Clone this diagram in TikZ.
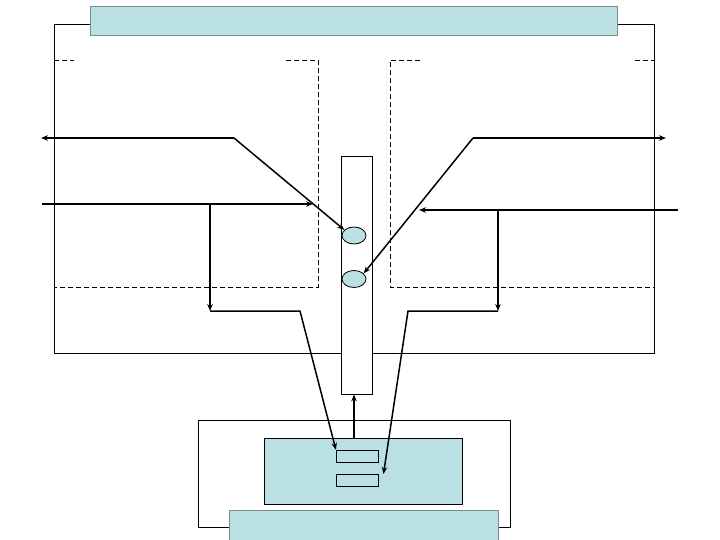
\documentclass[tikz,border=0pt]{standalone}
\usepackage{tikz}
\usetikzlibrary{
  arrows.meta,
  shapes.geometric
}
\definecolor{boxblue}{RGB}{187,224,227}
\definecolor{edgegray}{RGB}{125,138,140}

\begin{document}
\begin{tikzpicture}[x=1pt,y=-1pt,
  frame/.style={draw=black,line width=0.8pt},
  zone/.style={draw=black,line width=0.8pt,dash pattern=on 5pt off 3pt},
  bar/.style={fill=boxblue,draw=edgegray,line width=1pt,inner sep=0pt},
  slot/.style={draw=black,fill=boxblue,line width=0.8pt,inner sep=0pt,
    minimum width=42pt,minimum height=12pt},
  flow/.style={line width=2pt,-{Stealth[length=7pt,width=5.5pt]}},
  link/.style={line width=1.5pt,-{Stealth[length=7pt,width=5.5pt]}}]
  \useasboundingbox (0,0) rectangle (720,540);
  % Upper frame and title bar
  \draw[frame] (90,24) -- (54,24) -- (54,353) -- (654,353) -- (654,24) -- (617,24);
  \node[bar, minimum width=527pt, minimum height=29pt] (title) at (353.5,21.5) {};
  % Dashed zones
  \draw[zone] (54,60) -- (74,60);
  \draw[zone] (286,60) -- (318,60) -- (318,287) -- (54,287);
  \draw[zone] (420,60) -- (390,60) -- (390,287) -- (654,287);
  \draw[zone] (635,60) -- (654,60);
  % Centre column with two ports
  \node[draw, fill=white, line width=0.8pt, inner sep=0pt,
        minimum width=31pt, minimum height=238pt] (col) at (356.5,275) {};
  \node[ellipse, draw, fill=boxblue, line width=0.8pt, inner sep=0pt,
        minimum width=24pt, minimum height=17pt] (p1) at (354,235.5) {};
  \node[ellipse, draw, fill=boxblue, line width=0.8pt, inner sep=0pt,
        minimum width=24pt, minimum height=17pt] (p2) at (354,279) {};
  % Lower unit
  \draw[frame] (198,420) rectangle (510.5,527.5);
  \node[draw, fill=boxblue, line width=0.9pt, inner sep=0pt,
        minimum width=198pt, minimum height=66pt] (unit) at (363.5,471.3) {};
  \node[slot] (s1) at (357.3,456.2) {};
  \node[slot] (s2) at (357.3,480.5) {};
  \node[bar, minimum width=268.7pt, minimum height=40pt] (base) at (364.3,530.3) {};
  % Bends and free ends
  \coordinate (lout) at (41,138);
  \coordinate (lbend) at (234,138);
  \coordinate (lin) at (42,204);
  \coordinate (ltip) at (313,204);
  \coordinate (ldrop) at (210,204);
  \coordinate (lfoot) at (210,311);
  \coordinate (lturn) at (300,311);
  \coordinate (rout) at (666,138);
  \coordinate (rbend) at (473,138);
  \coordinate (rin) at (678,210);
  \coordinate (rtip) at (419,210);
  \coordinate (rdrop) at (498,210);
  \coordinate (rfoot) at (498,311);
  \coordinate (rturn) at (408,311);
  \coordinate (rend) at (383.5,474);
  % Left side arrows
  \draw[flow] (lbend) -- (lout);
  \draw[link] (lbend) -- (p1.150);
  \draw[flow] (lin) -- (ltip);
  \draw[flow] (ldrop) -- (lfoot);
  \draw[link] (lfoot) -- (lturn) -- (s1.north west);
  % Right side arrows
  \draw[flow] (rbend) -- (rout);
  \draw[link] (rbend) -- (p2.30);
  \draw[flow] (rin) -- (rtip);
  \draw[flow] (rdrop) -- (rfoot);
  \draw[link] (rfoot) -- (rturn) -- (rend);
  % Unit to column
  \draw[flow] (p1 |- unit.north) -- (p1 |- col.south);
\end{tikzpicture}
\end{document}
